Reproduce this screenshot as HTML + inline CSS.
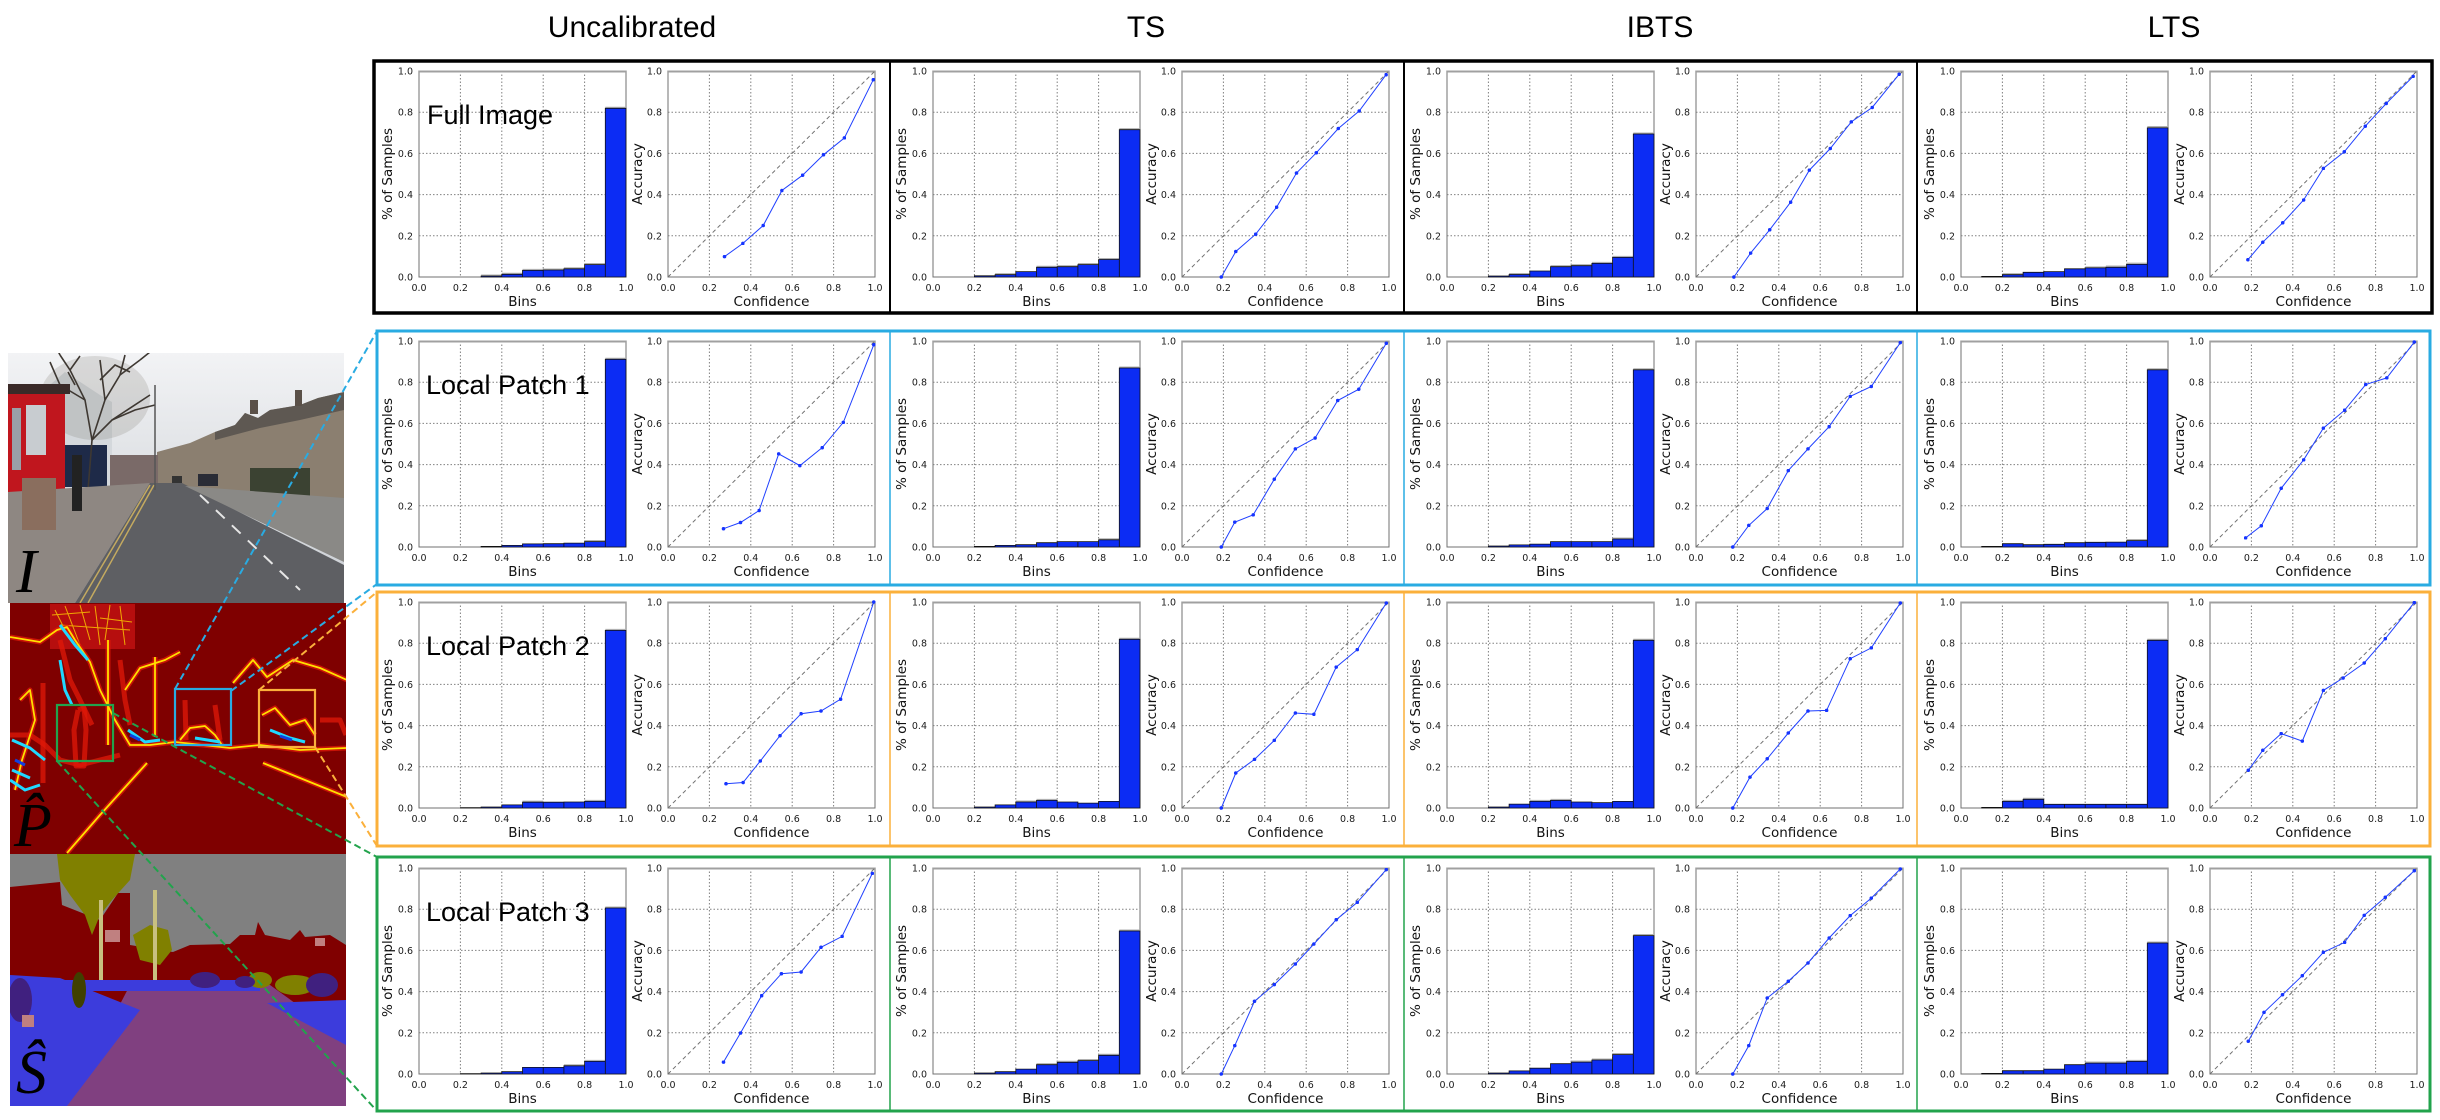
<!DOCTYPE html>
<html><head><meta charset="utf-8"><style>
html,body{margin:0;padding:0;background:#fff}
svg{display:block}
.t{font-family:"DejaVu Sans",sans-serif;font-size:9.5px;fill:#1a1a1a}
.l{font-family:"DejaVu Sans",sans-serif;font-size:13.5px;fill:#111}
.rl{font-family:"Liberation Sans",sans-serif;font-size:27px;fill:#000}
.ct{font-family:"Liberation Sans",sans-serif;font-size:30px;fill:#000}
.g{stroke:#808080;stroke-width:1;stroke-dasharray:1.5 2;fill:none}
.b{fill:#0c2cf4;stroke:#111;stroke-width:.8}
.r{fill:none;stroke:#2040ff;stroke-width:1;marker-start:url(#m);marker-mid:url(#m);marker-end:url(#m)}
.gl{fill:none;stroke:#e01808;stroke-width:5;stroke-opacity:.75;stroke-linejoin:round}
.yl{fill:none;stroke:#ffe000;stroke-width:1.8;stroke-linejoin:round}
.cy{fill:none;stroke:#20d8ff;stroke-width:3;stroke-linejoin:round}
.bl{fill:none;stroke:#1040e0;stroke-width:3;stroke-linejoin:round}
</style></head><body>
<svg width="2440" height="1120" viewBox="0 0 2440 1120" xmlns="http://www.w3.org/2000/svg">
<defs>
<marker id="m" viewBox="0 0 4 4" refX="2" refY="2" markerWidth="3.6" markerHeight="3.6" markerUnits="userSpaceOnUse"><circle cx="2" cy="2" r="2" fill="#1634ff"/></marker>
<g id="hf"><rect x="44" y="0" width="207" height="206" fill="#fff" stroke="#707070" stroke-width="1"/><path class="g" d="M85.4 0V206M126.8 0V206M168.2 0V206M209.6 0V206M44 41.2H251M44 82.4H251M44 123.6H251M44 164.8H251"/><path d="M44 0.5H251" stroke="#a0a0a0" stroke-width="2"/></g>
<g id="rf"><rect x="293" y="0" width="207" height="206" fill="#fff" stroke="#707070" stroke-width="1"/><path class="g" d="M334.4 0V206M375.8 0V206M417.2 0V206M458.6 0V206M293 41.2H500M293 82.4H500M293 123.6H500M293 164.8H500"/><path d="M293 0.5H500" stroke="#a0a0a0" stroke-width="2"/><path d="M293 206L500 0" stroke="#707070" stroke-width="1" stroke-dasharray="4 3" fill="none"/></g>
<clipPath id="cp1"><rect x="8" y="353" width="336" height="250"/></clipPath>
<clipPath id="cp2"><rect x="10" y="603" width="336" height="251"/></clipPath>
<clipPath id="cp3"><rect x="10" y="854" width="336" height="252"/></clipPath>
<linearGradient id="sky" x1="0" y1="0" x2="0" y2="1"><stop offset="0" stop-color="#f2f3f5"/><stop offset="1" stop-color="#c9cdd2"/></linearGradient>
</defs>

<!-- Column titles -->
<text class="ct" x="632" y="37" text-anchor="middle">Uncalibrated</text>
<text class="ct" x="1146" y="37" text-anchor="middle">TS</text>
<text class="ct" x="1660" y="37" text-anchor="middle">IBTS</text>
<text class="ct" x="2174" y="37" text-anchor="middle">LTS</text>

<!-- ===== Left images ===== -->
<g clip-path="url(#cp1)">
<rect x="8" y="353" width="336" height="250" fill="url(#sky)"/>
<polygon fill="#8b7f70" points="157,452 190,443 215,432 235,425 245,413 258,418 270,410 300,405 318,398 344,392 344,500 157,490"/>
<polygon fill="#5e5852" points="215,432 235,425 245,413 258,418 270,410 300,405 318,398 344,392 344,410 300,420 260,428 215,440"/>
<rect x="250" y="400" width="8" height="14" fill="#5a5048"/><rect x="295" y="390" width="7" height="16" fill="#5a5048"/>
<rect x="250" y="468" width="60" height="28" fill="#3b4232"/>
<polygon fill="#d4d8dc" points="30,402 65,372 100,395 112,402 112,490 30,490"/>
<rect x="55" y="445" width="52" height="42" fill="#1e2a48"/>
<ellipse cx="95" cy="398" rx="55" ry="42" fill="#6a625a" opacity=".18"/>
<g stroke="#3e3832" stroke-width="1.6" fill="none">
<polyline points="88,490 92,440 85,400 70,370 60,355"/><polyline points="92,440 105,400 120,375 140,360"/><polyline points="92,440 112,420 150,395"/><polyline points="85,400 60,385 50,362"/><polyline points="105,400 100,360"/><polyline points="120,375 125,355"/><polyline points="70,370 80,356"/><polyline points="112,420 135,410 155,405"/>
<polyline points="100,380 115,365 130,372"/><polyline points="75,385 68,372"/><polyline points="140,360 150,352"/><polyline points="60,355 55,345"/>
</g>
<rect x="110" y="455" width="48" height="35" fill="#7a6a68"/>
<rect x="8" y="388" width="57" height="143" fill="#c0161e"/>
<rect x="8" y="384" width="62" height="10" fill="#3a2a28"/>
<rect x="12" y="408" width="9" height="62" fill="#9aa0a8"/><rect x="26" y="405" width="20" height="50" fill="#c8ccd0"/>
<polygon fill="#8e8782" points="8,492 150,483 75,603 8,603"/>
<rect x="22" y="478" width="34" height="52" fill="#8a6e5e"/>
<polygon fill="#5e5f63" points="150,483 182,483 344,565 344,603 75,603"/>
<polygon fill="#8a8986" points="185,486 344,498 344,562"/>
<line x1="150" y1="485" x2="80" y2="603" stroke="#c4aa60" stroke-width="1.5"/>
<line x1="154" y1="485" x2="88" y2="603" stroke="#c4aa60" stroke-width="1.5"/>
<line x1="200" y1="495" x2="300" y2="590" stroke="#e6e6e6" stroke-width="2" stroke-dasharray="12 10"/>
<rect x="198" y="474" width="20" height="12" fill="#2a2c36"/><rect x="172" y="476" width="10" height="7" fill="#333"/>
<rect x="72" y="455" width="10" height="56" fill="#222"/>
<line x1="155" y1="385" x2="155" y2="490" stroke="#555" stroke-width="1.5"/>
<text x="16" y="592" font-family="Liberation Serif,serif" font-style="italic" font-size="62" fill="#000">I</text>
</g>

<g clip-path="url(#cp2)">
<rect x="10" y="603" width="336" height="251" fill="#7f0000"/>
<rect x="50" y="604" width="85" height="45" fill="#c01010" opacity=".85"/>
<g stroke="#ffd000" stroke-width="1" fill="none" opacity=".8"><path d="M55 610L70 640M65 606L80 645M80 605L90 640M95 606L100 645M110 605L105 640M120 606L125 645M60 625L130 630M52 615L90 612M100 618L132 622"/></g>
<g>
<polyline class="gl" points="10,637 40,642 57,630 67,627 75,640 90,662 100,690 115,720 130,745 150,745 175,742 230,748 260,745 300,750 346,748"/>
<polyline class="gl" points="10,735 30,735 45,745 60,760 80,765 100,760 120,755"/>
<polyline class="gl" points="67,853 100,815 147,763"/>
<polyline class="gl" points="263,763 300,778 347,797"/>
<polyline class="gl" points="233,683 253,660 267,677 293,660 320,668 347,680"/>
<polyline class="gl" points="43,683 43,783"/><polyline class="gl" points="155,657 155,737"/><polyline class="gl" points="108,640 108,745"/>
<polyline class="gl" points="78,710 84,708 86,730 84,766 76,766 74,730 78,710"/>
<polyline class="gl" points="125,690 140,668 165,660 180,652"/>
<polyline class="gl" points="60,640 70,680 80,700 92,725"/>
<polyline class="gl" points="20,700 30,690 35,720 22,760 15,790"/>
<polyline class="gl" points="180,740 190,728 205,726 215,735 222,745"/>
<polyline class="gl" points="185,700 186,740"/><polyline class="gl" points="215,705 220,740"/>
<polyline class="gl" points="262,715 275,708 290,725 305,720 315,735"/>
<polyline class="gl" points="120,660 125,700 130,725"/>
<polyline class="gl" points="320,720 340,720 346,735"/>
<polyline class="yl" points="10,637 40,642 57,630 67,627 75,640 90,662 100,690 115,720 130,745 150,745 175,742 230,748 260,745 300,750 346,748"/>
<polyline class="yl" points="67,853 100,815 147,763"/>
<polyline class="yl" points="263,763 300,778 347,797"/>
<polyline class="yl" points="233,683 253,660 267,677 293,660 320,668 347,680"/>
<polyline class="yl" points="155,657 155,737"/><polyline class="yl" points="108,640 108,745"/>
<polyline class="yl" points="125,690 140,668 165,660 180,652"/>
<polyline class="yl" points="180,740 190,728 205,726 215,735 222,745"/>
<polyline class="yl" points="262,715 275,708 290,725 305,720 315,735"/>
<polyline class="yl" points="20,700 30,690 35,720 22,760 15,790"/>
<polyline class="cy" points="12,740 30,748 45,760"/><polyline class="cy" points="128,730 145,742 160,740"/>
<polyline class="cy" points="195,738 220,742"/><polyline class="cy" points="270,730 290,738 305,742"/>
<polyline class="cy" points="12,770 30,778"/><polyline class="cy" points="60,625 75,645 88,660"/>
<polyline class="cy" points="60,660 65,690 72,705"/><polyline class="cy" points="10,780 25,790 40,785"/>
<polyline class="bl" points="130,735 140,740"/><polyline class="bl" points="280,736 292,740"/><polyline class="bl" points="15,760 25,765"/>
</g>
<text x="14" y="846" font-family="Liberation Serif,serif" font-style="italic" font-size="62" fill="#000">P̂</text>
</g>
<rect x="175" y="689" width="56" height="56" fill="none" stroke="#29abe2" stroke-width="2.2"/>
<rect x="259" y="690" width="56" height="57" fill="none" stroke="#fbb03b" stroke-width="2.2"/>
<rect x="57" y="705" width="56" height="56" fill="none" stroke="#22a34c" stroke-width="2.2"/>

<g clip-path="url(#cp3)">
<rect x="10" y="854" width="336" height="252" fill="#808080"/>
<path fill="#800000" d="M10 887L60 882L62 905L100 920L110 905L118 893L130 893L130 945L173 952L190 945L230 944L240 935L255 935L258 922L265 935L290 940L300 930L305 937L330 935L346 945L346 1005L10 1005Z"/>
<path fill="#808000" d="M57 854L135 854L130 880L112 900L100 915L92 935L85 915L70 895L60 880Z"/>
<path fill="#808000" d="M133 935L150 925L168 930L172 950L160 965L140 960Z"/>
<rect x="99" y="900" width="4" height="90" fill="#c8c080"/><rect x="153" y="890" width="4" height="100" fill="#c8c080"/>
<path fill="#804080" d="M130 985L270 985L346 1040L346 1106L67 1106Z"/>
<path fill="#3c3cdc" d="M10 975L60 978L140 1010L67 1106L10 1106Z"/>
<rect x="35" y="980" width="225" height="11" fill="#3c3cdc"/>
<path fill="#3c3cdc" d="M267 1003L346 1000L346 1045Z"/>
<ellipse cx="295" cy="985" rx="20" ry="10" fill="#808000"/><ellipse cx="260" cy="980" rx="12" ry="8" fill="#808000"/>
<ellipse cx="20" cy="1000" rx="12" ry="22" fill="#40207f"/><ellipse cx="205" cy="980" rx="15" ry="8" fill="#40207f"/><ellipse cx="245" cy="982" rx="10" ry="6" fill="#40207f"/><ellipse cx="322" cy="985" rx="16" ry="12" fill="#40207f"/>
<rect x="105" y="930" width="15" height="12" fill="#c08080"/><rect x="315" y="938" width="10" height="8" fill="#c08080"/><rect x="22" y="1015" width="12" height="12" fill="#c08080"/>
<ellipse cx="79" cy="990" rx="7" ry="18" fill="#404000"/>
<text x="16" y="1093" font-family="Liberation Serif,serif" font-style="italic" font-size="62" fill="#000">Ŝ</text>
</g>

<!-- dashed connectors -->
<g fill="none" stroke-width="2" stroke-dasharray="7 4">
<line x1="175" y1="689" x2="377" y2="331" stroke="#29abe2"/>
<line x1="231" y1="691" x2="377" y2="584" stroke="#29abe2"/>
<line x1="259" y1="690" x2="377" y2="592" stroke="#fbb03b"/>
<line x1="315" y1="747" x2="377" y2="846" stroke="#fbb03b"/>
<line x1="113" y1="713" x2="377" y2="857" stroke="#22a34c"/>
<line x1="57" y1="761" x2="377" y2="1111" stroke="#22a34c"/>
</g>

<!-- ===== Row frames ===== -->
<rect x="374" y="61" width="2058" height="252" fill="#fff" stroke="#000" stroke-width="3.5"/>
<path d="M890 61V313M1404 61V313M1917 61V313" stroke="#000" stroke-width="2"/>
<rect x="377" y="331" width="2053" height="254" fill="#fff" stroke="#29abe2" stroke-width="3"/>
<path d="M890 331V585M1404 331V585M1917 331V585" stroke="#29abe2" stroke-width="1.5"/>
<rect x="377" y="592" width="2053" height="254" fill="#fff" stroke="#fbb03b" stroke-width="3"/>
<path d="M890 592V846M1404 592V846M1917 592V846" stroke="#fbb03b" stroke-width="1.5"/>
<rect x="377" y="857" width="2053" height="254" fill="#fff" stroke="#22a34c" stroke-width="3"/>
<path d="M890 857V1111M1404 857V1111M1917 857V1111" stroke="#22a34c" stroke-width="1.5"/>

<!-- ===== ROW 1 ===== -->
<g transform="translate(375 71)"><use href="#hf"/><use href="#rf"/>
<path d="M106.1 204.2h20.7M126.8 202.5h20.7M147.5 198.6h20.7M168.2 198.2h20.7M188.9 197h20.7M209.6 192.8h20.7M230.3 36.5h20.7" stroke="#b0b0b0" stroke-width="1.5"/>
<path class="b" d="M106.1 206V205h20.7V206zM126.8 206V203.3h20.7V206zM147.5 206V199.4h20.7V206zM168.2 206V199h20.7V206zM188.9 206V197.8h20.7V206zM209.6 206V193.6h20.7V206zM230.3 206V37.3h20.7V206z"/>
<polyline class="r" points="349.5,185.6 367.9,172.4 388.2,154.5 406.9,119.5 427.6,104.2 448.5,83.8 469.4,66.9 498.3,8.7"/>
<text class="t" text-anchor="end"><tspan x="38" y="209.5">0.0</tspan><tspan x="38" y="168.3">0.2</tspan><tspan x="38" y="127.1">0.4</tspan><tspan x="38" y="85.9">0.6</tspan><tspan x="38" y="44.7">0.8</tspan><tspan x="38" y="3.5">1.0</tspan></text>
<text class="t" text-anchor="middle"><tspan x="44" y="220">0.0</tspan><tspan x="85.4" y="220">0.2</tspan><tspan x="126.8" y="220">0.4</tspan><tspan x="168.2" y="220">0.6</tspan><tspan x="209.6" y="220">0.8</tspan><tspan x="251" y="220">1.0</tspan></text>
<text class="t" text-anchor="end"><tspan x="287" y="209.5">0.0</tspan><tspan x="287" y="168.3">0.2</tspan><tspan x="287" y="127.1">0.4</tspan><tspan x="287" y="85.9">0.6</tspan><tspan x="287" y="44.7">0.8</tspan><tspan x="287" y="3.5">1.0</tspan></text>
<text class="t" text-anchor="middle"><tspan x="293" y="220">0.0</tspan><tspan x="334.4" y="220">0.2</tspan><tspan x="375.8" y="220">0.4</tspan><tspan x="417.2" y="220">0.6</tspan><tspan x="458.6" y="220">0.8</tspan><tspan x="500" y="220">1.0</tspan></text>
<text class="l" x="147.5" y="235" text-anchor="middle">Bins</text><text class="l" x="396.5" y="235" text-anchor="middle">Confidence</text>
<text class="l" transform="translate(17 103) rotate(-90)" text-anchor="middle">% of Samples</text><text class="l" transform="translate(267 103) rotate(-90)" text-anchor="middle">Accuracy</text>
<text class="rl" x="52" y="53">Full Image</text>
</g>

<g transform="translate(889 71)"><use href="#hf"/><use href="#rf"/>
<path d="M106.1 202.9h20.7M147.5 195.5h20.7M168.2 194.9h20.7M188.9 192.8h20.7M209.6 187.7h20.7M230.3 57.9h20.7" stroke="#b0b0b0" stroke-width="1.5"/>
<path class="b" d="M85.4 206V204.8h20.7V206zM106.1 206V203.7h20.7V206zM126.8 206V200.6h20.7V206zM147.5 206V196.3h20.7V206zM168.2 206V195.7h20.7V206zM188.9 206V193.6h20.7V206zM209.6 206V188.5h20.7V206zM230.3 206V58.7h20.7V206z"/>
<polyline class="r" points="332.3,206 346.8,180.5 366.7,163.2 387.6,136.2 407.5,102 427.3,81.8 449.3,57.5 470.2,40 497.1,3.7"/>
<text class="t" text-anchor="end"><tspan x="38" y="209.5">0.0</tspan><tspan x="38" y="168.3">0.2</tspan><tspan x="38" y="127.1">0.4</tspan><tspan x="38" y="85.9">0.6</tspan><tspan x="38" y="44.7">0.8</tspan><tspan x="38" y="3.5">1.0</tspan></text>
<text class="t" text-anchor="middle"><tspan x="44" y="220">0.0</tspan><tspan x="85.4" y="220">0.2</tspan><tspan x="126.8" y="220">0.4</tspan><tspan x="168.2" y="220">0.6</tspan><tspan x="209.6" y="220">0.8</tspan><tspan x="251" y="220">1.0</tspan></text>
<text class="t" text-anchor="end"><tspan x="287" y="209.5">0.0</tspan><tspan x="287" y="168.3">0.2</tspan><tspan x="287" y="127.1">0.4</tspan><tspan x="287" y="85.9">0.6</tspan><tspan x="287" y="44.7">0.8</tspan><tspan x="287" y="3.5">1.0</tspan></text>
<text class="t" text-anchor="middle"><tspan x="293" y="220">0.0</tspan><tspan x="334.4" y="220">0.2</tspan><tspan x="375.8" y="220">0.4</tspan><tspan x="417.2" y="220">0.6</tspan><tspan x="458.6" y="220">0.8</tspan><tspan x="500" y="220">1.0</tspan></text>
<text class="l" x="147.5" y="235" text-anchor="middle">Bins</text><text class="l" x="396.5" y="235" text-anchor="middle">Confidence</text>
<text class="l" transform="translate(17 103) rotate(-90)" text-anchor="middle">% of Samples</text><text class="l" transform="translate(267 103) rotate(-90)" text-anchor="middle">Accuracy</text>
</g>

<g transform="translate(1403 71)"><use href="#hf"/><use href="#rf"/>
<path d="M106.1 202.7h20.7M147.5 194.9h20.7M168.2 193.9h20.7M188.9 191.6h20.7M209.6 185.6h20.7M230.3 62.2h20.7" stroke="#b0b0b0" stroke-width="1.5"/>
<path class="b" d="M85.4 206V205h20.7V206zM106.1 206V203.5h20.7V206zM126.8 206V200h20.7V206zM147.5 206V195.7h20.7V206zM168.2 206V194.7h20.7V206zM188.9 206V192.4h20.7V206zM209.6 206V186.4h20.7V206zM230.3 206V63h20.7V206z"/>
<polyline class="r" points="330.9,206 347.6,182.1 366.7,158.8 387.6,131.2 406.4,99.1 427.3,77.5 448.3,50.9 469.2,36.5 496.1,3.3"/>
<text class="t" text-anchor="end"><tspan x="38" y="209.5">0.0</tspan><tspan x="38" y="168.3">0.2</tspan><tspan x="38" y="127.1">0.4</tspan><tspan x="38" y="85.9">0.6</tspan><tspan x="38" y="44.7">0.8</tspan><tspan x="38" y="3.5">1.0</tspan></text>
<text class="t" text-anchor="middle"><tspan x="44" y="220">0.0</tspan><tspan x="85.4" y="220">0.2</tspan><tspan x="126.8" y="220">0.4</tspan><tspan x="168.2" y="220">0.6</tspan><tspan x="209.6" y="220">0.8</tspan><tspan x="251" y="220">1.0</tspan></text>
<text class="t" text-anchor="end"><tspan x="287" y="209.5">0.0</tspan><tspan x="287" y="168.3">0.2</tspan><tspan x="287" y="127.1">0.4</tspan><tspan x="287" y="85.9">0.6</tspan><tspan x="287" y="44.7">0.8</tspan><tspan x="287" y="3.5">1.0</tspan></text>
<text class="t" text-anchor="middle"><tspan x="293" y="220">0.0</tspan><tspan x="334.4" y="220">0.2</tspan><tspan x="375.8" y="220">0.4</tspan><tspan x="417.2" y="220">0.6</tspan><tspan x="458.6" y="220">0.8</tspan><tspan x="500" y="220">1.0</tspan></text>
<text class="l" x="147.5" y="235" text-anchor="middle">Bins</text><text class="l" x="396.5" y="235" text-anchor="middle">Confidence</text>
<text class="l" transform="translate(17 103) rotate(-90)" text-anchor="middle">% of Samples</text><text class="l" transform="translate(267 103) rotate(-90)" text-anchor="middle">Accuracy</text>
</g>

<g transform="translate(1917 71)"><use href="#hf"/><use href="#rf"/>
<path d="M85.4 202.9h20.7M168.2 196.1h20.7M188.9 195.3h20.7M209.6 192.4h20.7M230.3 55.7h20.7" stroke="#b0b0b0" stroke-width="1.5"/>
<path class="b" d="M64.7 206V205.4h20.7V206zM85.4 206V203.7h20.7V206zM106.1 206V201.3h20.7V206zM126.8 206V200.6h20.7V206zM147.5 206V197.8h20.7V206zM168.2 206V196.9h20.7V206zM188.9 206V196.3h20.7V206zM209.6 206V193.4h20.7V206zM230.3 206V56.9h20.7V206z"/>
<polyline class="r" points="330.9,188.7 345.8,171.2 365.7,151.8 386.6,129 406.4,97.4 427.3,80.8 448.3,55.2 469.2,32.5 496.1,5.4"/>
<text class="t" text-anchor="end"><tspan x="38" y="209.5">0.0</tspan><tspan x="38" y="168.3">0.2</tspan><tspan x="38" y="127.1">0.4</tspan><tspan x="38" y="85.9">0.6</tspan><tspan x="38" y="44.7">0.8</tspan><tspan x="38" y="3.5">1.0</tspan></text>
<text class="t" text-anchor="middle"><tspan x="44" y="220">0.0</tspan><tspan x="85.4" y="220">0.2</tspan><tspan x="126.8" y="220">0.4</tspan><tspan x="168.2" y="220">0.6</tspan><tspan x="209.6" y="220">0.8</tspan><tspan x="251" y="220">1.0</tspan></text>
<text class="t" text-anchor="end"><tspan x="287" y="209.5">0.0</tspan><tspan x="287" y="168.3">0.2</tspan><tspan x="287" y="127.1">0.4</tspan><tspan x="287" y="85.9">0.6</tspan><tspan x="287" y="44.7">0.8</tspan><tspan x="287" y="3.5">1.0</tspan></text>
<text class="t" text-anchor="middle"><tspan x="293" y="220">0.0</tspan><tspan x="334.4" y="220">0.2</tspan><tspan x="375.8" y="220">0.4</tspan><tspan x="417.2" y="220">0.6</tspan><tspan x="458.6" y="220">0.8</tspan><tspan x="500" y="220">1.0</tspan></text>
<text class="l" x="147.5" y="235" text-anchor="middle">Bins</text><text class="l" x="396.5" y="235" text-anchor="middle">Confidence</text>
<text class="l" transform="translate(17 103) rotate(-90)" text-anchor="middle">% of Samples</text><text class="l" transform="translate(267 103) rotate(-90)" text-anchor="middle">Accuracy</text>
</g>

<!-- ===== ROW 2 ===== -->
<g transform="translate(375 341)"><use href="#hf"/><use href="#rf"/>
<path d="M230.3 17.5h20.7M209.6 199.8h20.7" stroke="#b0b0b0" stroke-width="1.5"/>
<path class="b" d="M106.1 206V205.4h20.7V206zM126.8 206V204.4h20.7V206zM147.5 206V202.9h20.7V206zM168.2 206V202.7h20.7V206zM188.9 206V202.1h20.7V206zM209.6 206V200.6h20.7V206zM230.3 206V18.3h20.7V206z"/>
<polyline class="r" points="348.5,187.7 365.5,181.5 384.1,169.5 403.7,112.9 424.9,124.6 447.2,106.7 468.3,81.4 498.8,3.7"/>
<text class="t" text-anchor="end"><tspan x="38" y="209.5">0.0</tspan><tspan x="38" y="168.3">0.2</tspan><tspan x="38" y="127.1">0.4</tspan><tspan x="38" y="85.9">0.6</tspan><tspan x="38" y="44.7">0.8</tspan><tspan x="38" y="3.5">1.0</tspan></text>
<text class="t" text-anchor="middle"><tspan x="44" y="220">0.0</tspan><tspan x="85.4" y="220">0.2</tspan><tspan x="126.8" y="220">0.4</tspan><tspan x="168.2" y="220">0.6</tspan><tspan x="209.6" y="220">0.8</tspan><tspan x="251" y="220">1.0</tspan></text>
<text class="t" text-anchor="end"><tspan x="287" y="209.5">0.0</tspan><tspan x="287" y="168.3">0.2</tspan><tspan x="287" y="127.1">0.4</tspan><tspan x="287" y="85.9">0.6</tspan><tspan x="287" y="44.7">0.8</tspan><tspan x="287" y="3.5">1.0</tspan></text>
<text class="t" text-anchor="middle"><tspan x="293" y="220">0.0</tspan><tspan x="334.4" y="220">0.2</tspan><tspan x="375.8" y="220">0.4</tspan><tspan x="417.2" y="220">0.6</tspan><tspan x="458.6" y="220">0.8</tspan><tspan x="500" y="220">1.0</tspan></text>
<text class="l" x="147.5" y="235" text-anchor="middle">Bins</text><text class="l" x="396.5" y="235" text-anchor="middle">Confidence</text>
<text class="l" transform="translate(17 103) rotate(-90)" text-anchor="middle">% of Samples</text><text class="l" transform="translate(267 103) rotate(-90)" text-anchor="middle">Accuracy</text>
<text class="rl" x="51" y="53">Local Patch 1</text>
</g>

<g transform="translate(889 341)"><use href="#hf"/><use href="#rf"/>
<path d="M230.3 26.2h20.7M209.6 198h20.7" stroke="#b0b0b0" stroke-width="1.5"/>
<path class="b" d="M85.4 206V205.4h20.7V206zM106.1 206V204.4h20.7V206zM126.8 206V203.7h20.7V206zM147.5 206V201.7h20.7V206zM168.2 206V200.6h20.7V206zM188.9 206V200.6h20.7V206zM209.6 206V198.8h20.7V206zM230.3 206V27h20.7V206z"/>
<polyline class="r" points="332.3,206 345.8,181.1 364.2,173.9 385.3,138.2 406.4,107.9 426.1,97 448.7,59.5 469.8,48.2 497.3,2.3"/>
<text class="t" text-anchor="end"><tspan x="38" y="209.5">0.0</tspan><tspan x="38" y="168.3">0.2</tspan><tspan x="38" y="127.1">0.4</tspan><tspan x="38" y="85.9">0.6</tspan><tspan x="38" y="44.7">0.8</tspan><tspan x="38" y="3.5">1.0</tspan></text>
<text class="t" text-anchor="middle"><tspan x="44" y="220">0.0</tspan><tspan x="85.4" y="220">0.2</tspan><tspan x="126.8" y="220">0.4</tspan><tspan x="168.2" y="220">0.6</tspan><tspan x="209.6" y="220">0.8</tspan><tspan x="251" y="220">1.0</tspan></text>
<text class="t" text-anchor="end"><tspan x="287" y="209.5">0.0</tspan><tspan x="287" y="168.3">0.2</tspan><tspan x="287" y="127.1">0.4</tspan><tspan x="287" y="85.9">0.6</tspan><tspan x="287" y="44.7">0.8</tspan><tspan x="287" y="3.5">1.0</tspan></text>
<text class="t" text-anchor="middle"><tspan x="293" y="220">0.0</tspan><tspan x="334.4" y="220">0.2</tspan><tspan x="375.8" y="220">0.4</tspan><tspan x="417.2" y="220">0.6</tspan><tspan x="458.6" y="220">0.8</tspan><tspan x="500" y="220">1.0</tspan></text>
<text class="l" x="147.5" y="235" text-anchor="middle">Bins</text><text class="l" x="396.5" y="235" text-anchor="middle">Confidence</text>
<text class="l" transform="translate(17 103) rotate(-90)" text-anchor="middle">% of Samples</text><text class="l" transform="translate(267 103) rotate(-90)" text-anchor="middle">Accuracy</text>
</g>

<g transform="translate(1403 341)"><use href="#hf"/><use href="#rf"/>
<path d="M230.3 28h20.7M209.6 197.2h20.7" stroke="#b0b0b0" stroke-width="1.5"/>
<path class="b" d="M85.4 206V205h20.7V206zM106.1 206V203.9h20.7V206zM126.8 206V203.1h20.7V206zM147.5 206V200.6h20.7V206zM168.2 206V200.6h20.7V206zM188.9 206V200.6h20.7V206zM209.6 206V198h20.7V206zM230.3 206V28.8h20.7V206z"/>
<polyline class="r" points="329.8,206 345.8,184.4 364.2,167.5 385.3,129.6 405,107.9 426.1,85.7 447.2,55.4 468.3,45.5 497.3,1.6"/>
<text class="t" text-anchor="end"><tspan x="38" y="209.5">0.0</tspan><tspan x="38" y="168.3">0.2</tspan><tspan x="38" y="127.1">0.4</tspan><tspan x="38" y="85.9">0.6</tspan><tspan x="38" y="44.7">0.8</tspan><tspan x="38" y="3.5">1.0</tspan></text>
<text class="t" text-anchor="middle"><tspan x="44" y="220">0.0</tspan><tspan x="85.4" y="220">0.2</tspan><tspan x="126.8" y="220">0.4</tspan><tspan x="168.2" y="220">0.6</tspan><tspan x="209.6" y="220">0.8</tspan><tspan x="251" y="220">1.0</tspan></text>
<text class="t" text-anchor="end"><tspan x="287" y="209.5">0.0</tspan><tspan x="287" y="168.3">0.2</tspan><tspan x="287" y="127.1">0.4</tspan><tspan x="287" y="85.9">0.6</tspan><tspan x="287" y="44.7">0.8</tspan><tspan x="287" y="3.5">1.0</tspan></text>
<text class="t" text-anchor="middle"><tspan x="293" y="220">0.0</tspan><tspan x="334.4" y="220">0.2</tspan><tspan x="375.8" y="220">0.4</tspan><tspan x="417.2" y="220">0.6</tspan><tspan x="458.6" y="220">0.8</tspan><tspan x="500" y="220">1.0</tspan></text>
<text class="l" x="147.5" y="235" text-anchor="middle">Bins</text><text class="l" x="396.5" y="235" text-anchor="middle">Confidence</text>
<text class="l" transform="translate(17 103) rotate(-90)" text-anchor="middle">% of Samples</text><text class="l" transform="translate(267 103) rotate(-90)" text-anchor="middle">Accuracy</text>
</g>

<g transform="translate(1917 341)"><use href="#hf"/><use href="#rf"/>
<path d="M230.3 28h20.7M209.6 198.8h20.7" stroke="#b0b0b0" stroke-width="1.5"/>
<path class="b" d="M64.7 206V205.4h20.7V206zM85.4 206V202.7h20.7V206zM106.1 206V203.7h20.7V206zM126.8 206V203.3h20.7V206zM147.5 206V201.7h20.7V206zM168.2 206V201.3h20.7V206zM188.9 206V201.1h20.7V206zM209.6 206V199.6h20.7V206zM230.3 206V28.8h20.7V206z"/>
<polyline class="r" points="328.6,196.9 344.3,184.8 364.2,147.3 386.6,118.9 406.4,87.1 427.6,69.2 448.7,43.5 469.8,36.9 497.3,1"/>
<text class="t" text-anchor="end"><tspan x="38" y="209.5">0.0</tspan><tspan x="38" y="168.3">0.2</tspan><tspan x="38" y="127.1">0.4</tspan><tspan x="38" y="85.9">0.6</tspan><tspan x="38" y="44.7">0.8</tspan><tspan x="38" y="3.5">1.0</tspan></text>
<text class="t" text-anchor="middle"><tspan x="44" y="220">0.0</tspan><tspan x="85.4" y="220">0.2</tspan><tspan x="126.8" y="220">0.4</tspan><tspan x="168.2" y="220">0.6</tspan><tspan x="209.6" y="220">0.8</tspan><tspan x="251" y="220">1.0</tspan></text>
<text class="t" text-anchor="end"><tspan x="287" y="209.5">0.0</tspan><tspan x="287" y="168.3">0.2</tspan><tspan x="287" y="127.1">0.4</tspan><tspan x="287" y="85.9">0.6</tspan><tspan x="287" y="44.7">0.8</tspan><tspan x="287" y="3.5">1.0</tspan></text>
<text class="t" text-anchor="middle"><tspan x="293" y="220">0.0</tspan><tspan x="334.4" y="220">0.2</tspan><tspan x="375.8" y="220">0.4</tspan><tspan x="417.2" y="220">0.6</tspan><tspan x="458.6" y="220">0.8</tspan><tspan x="500" y="220">1.0</tspan></text>
<text class="l" x="147.5" y="235" text-anchor="middle">Bins</text><text class="l" x="396.5" y="235" text-anchor="middle">Confidence</text>
<text class="l" transform="translate(17 103) rotate(-90)" text-anchor="middle">% of Samples</text><text class="l" transform="translate(267 103) rotate(-90)" text-anchor="middle">Accuracy</text>
</g>

<!-- ===== ROW 3 ===== -->
<g transform="translate(375 602)"><use href="#hf"/><use href="#rf"/>
<path d="M230.3 27.6h20.7M209.6 198.6h20.7M147.5 199.4h20.7" stroke="#b0b0b0" stroke-width="1.5"/>
<path class="b" d="M85.4 206V205.6h20.7V206zM106.1 206V205h20.7V206zM126.8 206V202.9h20.7V206zM147.5 206V200.2h20.7V206zM168.2 206V200.2h20.7V206zM188.9 206V200h20.7V206zM209.6 206V199.4h20.7V206zM230.3 206V28.4h20.7V206z"/>
<polyline class="r" points="351,181.7 368.1,180.5 385.3,159 405,133.7 426.1,111.7 446,109 465.6,97.2 498.8,0"/>
<text class="t" text-anchor="end"><tspan x="38" y="209.5">0.0</tspan><tspan x="38" y="168.3">0.2</tspan><tspan x="38" y="127.1">0.4</tspan><tspan x="38" y="85.9">0.6</tspan><tspan x="38" y="44.7">0.8</tspan><tspan x="38" y="3.5">1.0</tspan></text>
<text class="t" text-anchor="middle"><tspan x="44" y="220">0.0</tspan><tspan x="85.4" y="220">0.2</tspan><tspan x="126.8" y="220">0.4</tspan><tspan x="168.2" y="220">0.6</tspan><tspan x="209.6" y="220">0.8</tspan><tspan x="251" y="220">1.0</tspan></text>
<text class="t" text-anchor="end"><tspan x="287" y="209.5">0.0</tspan><tspan x="287" y="168.3">0.2</tspan><tspan x="287" y="127.1">0.4</tspan><tspan x="287" y="85.9">0.6</tspan><tspan x="287" y="44.7">0.8</tspan><tspan x="287" y="3.5">1.0</tspan></text>
<text class="t" text-anchor="middle"><tspan x="293" y="220">0.0</tspan><tspan x="334.4" y="220">0.2</tspan><tspan x="375.8" y="220">0.4</tspan><tspan x="417.2" y="220">0.6</tspan><tspan x="458.6" y="220">0.8</tspan><tspan x="500" y="220">1.0</tspan></text>
<text class="l" x="147.5" y="235" text-anchor="middle">Bins</text><text class="l" x="396.5" y="235" text-anchor="middle">Confidence</text>
<text class="l" transform="translate(17 103) rotate(-90)" text-anchor="middle">% of Samples</text><text class="l" transform="translate(267 103) rotate(-90)" text-anchor="middle">Accuracy</text>
<text class="rl" x="51" y="53">Local Patch 2</text>
</g>

<g transform="translate(889 602)"><use href="#hf"/><use href="#rf"/>
<path d="M230.3 36.5h20.7M147.5 197.6h20.7M126.8 199.2h20.7" stroke="#b0b0b0" stroke-width="1.5"/>
<path class="b" d="M85.4 206V205h20.7V206zM106.1 206V202.9h20.7V206zM126.8 206V200h20.7V206zM147.5 206V198.4h20.7V206zM168.2 206V200h20.7V206zM188.9 206V201.1h20.7V206zM209.6 206V199.4h20.7V206zM230.3 206V37.3h20.7V206z"/>
<polyline class="r" points="332.3,206 346.8,171 365.5,157.4 385.3,138.4 406.4,111 424.9,112.3 447.2,65.1 468.3,47.6 497.3,1"/>
<text class="t" text-anchor="end"><tspan x="38" y="209.5">0.0</tspan><tspan x="38" y="168.3">0.2</tspan><tspan x="38" y="127.1">0.4</tspan><tspan x="38" y="85.9">0.6</tspan><tspan x="38" y="44.7">0.8</tspan><tspan x="38" y="3.5">1.0</tspan></text>
<text class="t" text-anchor="middle"><tspan x="44" y="220">0.0</tspan><tspan x="85.4" y="220">0.2</tspan><tspan x="126.8" y="220">0.4</tspan><tspan x="168.2" y="220">0.6</tspan><tspan x="209.6" y="220">0.8</tspan><tspan x="251" y="220">1.0</tspan></text>
<text class="t" text-anchor="end"><tspan x="287" y="209.5">0.0</tspan><tspan x="287" y="168.3">0.2</tspan><tspan x="287" y="127.1">0.4</tspan><tspan x="287" y="85.9">0.6</tspan><tspan x="287" y="44.7">0.8</tspan><tspan x="287" y="3.5">1.0</tspan></text>
<text class="t" text-anchor="middle"><tspan x="293" y="220">0.0</tspan><tspan x="334.4" y="220">0.2</tspan><tspan x="375.8" y="220">0.4</tspan><tspan x="417.2" y="220">0.6</tspan><tspan x="458.6" y="220">0.8</tspan><tspan x="500" y="220">1.0</tspan></text>
<text class="l" x="147.5" y="235" text-anchor="middle">Bins</text><text class="l" x="396.5" y="235" text-anchor="middle">Confidence</text>
<text class="l" transform="translate(17 103) rotate(-90)" text-anchor="middle">% of Samples</text><text class="l" transform="translate(267 103) rotate(-90)" text-anchor="middle">Accuracy</text>
</g>

<g transform="translate(1403 602)"><use href="#hf"/><use href="#rf"/>
<path d="M230.3 37.5h20.7M147.5 197.6h20.7M126.8 198.6h20.7" stroke="#b0b0b0" stroke-width="1.5"/>
<path class="b" d="M85.4 206V205h20.7V206zM106.1 206V202.1h20.7V206zM126.8 206V199.4h20.7V206zM147.5 206V198.4h20.7V206zM168.2 206V200h20.7V206zM188.9 206V200.6h20.7V206zM209.6 206V199.4h20.7V206zM230.3 206V38.3h20.7V206z"/>
<polyline class="r" points="329.8,206 347,175.1 364.2,156.8 385.3,131 405,109 423.6,108.4 447.2,56.7 468.3,45.9 497.3,1"/>
<text class="t" text-anchor="end"><tspan x="38" y="209.5">0.0</tspan><tspan x="38" y="168.3">0.2</tspan><tspan x="38" y="127.1">0.4</tspan><tspan x="38" y="85.9">0.6</tspan><tspan x="38" y="44.7">0.8</tspan><tspan x="38" y="3.5">1.0</tspan></text>
<text class="t" text-anchor="middle"><tspan x="44" y="220">0.0</tspan><tspan x="85.4" y="220">0.2</tspan><tspan x="126.8" y="220">0.4</tspan><tspan x="168.2" y="220">0.6</tspan><tspan x="209.6" y="220">0.8</tspan><tspan x="251" y="220">1.0</tspan></text>
<text class="t" text-anchor="end"><tspan x="287" y="209.5">0.0</tspan><tspan x="287" y="168.3">0.2</tspan><tspan x="287" y="127.1">0.4</tspan><tspan x="287" y="85.9">0.6</tspan><tspan x="287" y="44.7">0.8</tspan><tspan x="287" y="3.5">1.0</tspan></text>
<text class="t" text-anchor="middle"><tspan x="293" y="220">0.0</tspan><tspan x="334.4" y="220">0.2</tspan><tspan x="375.8" y="220">0.4</tspan><tspan x="417.2" y="220">0.6</tspan><tspan x="458.6" y="220">0.8</tspan><tspan x="500" y="220">1.0</tspan></text>
<text class="l" x="147.5" y="235" text-anchor="middle">Bins</text><text class="l" x="396.5" y="235" text-anchor="middle">Confidence</text>
<text class="l" transform="translate(17 103) rotate(-90)" text-anchor="middle">% of Samples</text><text class="l" transform="translate(267 103) rotate(-90)" text-anchor="middle">Accuracy</text>
</g>

<g transform="translate(1917 602)"><use href="#hf"/><use href="#rf"/>
<path d="M230.3 37.5h20.7M85.4 198.6h20.7M106.1 196.5h20.7" stroke="#b0b0b0" stroke-width="1.5"/>
<path class="b" d="M64.7 206V205.4h20.7V206zM85.4 206V199.4h20.7V206zM106.1 206V197.3h20.7V206zM126.8 206V202.3h20.7V206zM147.5 206V202.3h20.7V206zM168.2 206V202.3h20.7V206zM188.9 206V202.3h20.7V206zM209.6 206V202.3h20.7V206zM230.3 206V38.3h20.7V206z"/>
<polyline class="r" points="331.3,168.3 345.8,148.3 364.2,131.6 385.3,139.1 406.4,88.4 426.1,76 447.2,61 468.3,36.7 497.3,0.6"/>
<text class="t" text-anchor="end"><tspan x="38" y="209.5">0.0</tspan><tspan x="38" y="168.3">0.2</tspan><tspan x="38" y="127.1">0.4</tspan><tspan x="38" y="85.9">0.6</tspan><tspan x="38" y="44.7">0.8</tspan><tspan x="38" y="3.5">1.0</tspan></text>
<text class="t" text-anchor="middle"><tspan x="44" y="220">0.0</tspan><tspan x="85.4" y="220">0.2</tspan><tspan x="126.8" y="220">0.4</tspan><tspan x="168.2" y="220">0.6</tspan><tspan x="209.6" y="220">0.8</tspan><tspan x="251" y="220">1.0</tspan></text>
<text class="t" text-anchor="end"><tspan x="287" y="209.5">0.0</tspan><tspan x="287" y="168.3">0.2</tspan><tspan x="287" y="127.1">0.4</tspan><tspan x="287" y="85.9">0.6</tspan><tspan x="287" y="44.7">0.8</tspan><tspan x="287" y="3.5">1.0</tspan></text>
<text class="t" text-anchor="middle"><tspan x="293" y="220">0.0</tspan><tspan x="334.4" y="220">0.2</tspan><tspan x="375.8" y="220">0.4</tspan><tspan x="417.2" y="220">0.6</tspan><tspan x="458.6" y="220">0.8</tspan><tspan x="500" y="220">1.0</tspan></text>
<text class="l" x="147.5" y="235" text-anchor="middle">Bins</text><text class="l" x="396.5" y="235" text-anchor="middle">Confidence</text>
<text class="l" transform="translate(17 103) rotate(-90)" text-anchor="middle">% of Samples</text><text class="l" transform="translate(267 103) rotate(-90)" text-anchor="middle">Accuracy</text>
</g>

<!-- ===== ROW 4 ===== -->
<g transform="translate(375 868)"><use href="#hf"/><use href="#rf"/>
<path d="M230.3 39.2h20.7M209.6 192.6h20.7M188.9 197h20.7" stroke="#b0b0b0" stroke-width="1.5"/>
<path class="b" d="M85.4 206V205.6h20.7V206zM106.1 206V205h20.7V206zM126.8 206V203.7h20.7V206zM147.5 206V199.4h20.7V206zM168.2 206V199.4h20.7V206zM188.9 206V197.8h20.7V206zM209.6 206V193.4h20.7V206zM230.3 206V40h20.7V206z"/>
<polyline class="r" points="348.5,194.1 365.5,165 386.6,127.7 406.4,105.7 426.1,104 446,79.3 467.1,68.4 497.3,5.4"/>
<text class="t" text-anchor="end"><tspan x="38" y="209.5">0.0</tspan><tspan x="38" y="168.3">0.2</tspan><tspan x="38" y="127.1">0.4</tspan><tspan x="38" y="85.9">0.6</tspan><tspan x="38" y="44.7">0.8</tspan><tspan x="38" y="3.5">1.0</tspan></text>
<text class="t" text-anchor="middle"><tspan x="44" y="220">0.0</tspan><tspan x="85.4" y="220">0.2</tspan><tspan x="126.8" y="220">0.4</tspan><tspan x="168.2" y="220">0.6</tspan><tspan x="209.6" y="220">0.8</tspan><tspan x="251" y="220">1.0</tspan></text>
<text class="t" text-anchor="end"><tspan x="287" y="209.5">0.0</tspan><tspan x="287" y="168.3">0.2</tspan><tspan x="287" y="127.1">0.4</tspan><tspan x="287" y="85.9">0.6</tspan><tspan x="287" y="44.7">0.8</tspan><tspan x="287" y="3.5">1.0</tspan></text>
<text class="t" text-anchor="middle"><tspan x="293" y="220">0.0</tspan><tspan x="334.4" y="220">0.2</tspan><tspan x="375.8" y="220">0.4</tspan><tspan x="417.2" y="220">0.6</tspan><tspan x="458.6" y="220">0.8</tspan><tspan x="500" y="220">1.0</tspan></text>
<text class="l" x="147.5" y="235" text-anchor="middle">Bins</text><text class="l" x="396.5" y="235" text-anchor="middle">Confidence</text>
<text class="l" transform="translate(17 103) rotate(-90)" text-anchor="middle">% of Samples</text><text class="l" transform="translate(267 103) rotate(-90)" text-anchor="middle">Accuracy</text>
<text class="rl" x="51" y="53">Local Patch 3</text>
</g>

<g transform="translate(889 868)"><use href="#hf"/><use href="#rf"/>
<path d="M230.3 62.2h20.7M209.6 186.5h20.7M188.9 191.8h20.7M168.2 193.5h20.7M147.5 195.9h20.7" stroke="#b0b0b0" stroke-width="1.5"/>
<path class="b" d="M85.4 206V205h20.7V206zM106.1 206V203.7h20.7V206zM126.8 206V201.1h20.7V206zM147.5 206V196.7h20.7V206zM168.2 206V194.3h20.7V206zM188.9 206V192.6h20.7V206zM209.6 206V187.3h20.7V206zM230.3 206V63h20.7V206z"/>
<polyline class="r" points="332.3,206 345.8,177.6 365.5,133.3 385.3,116.6 406.4,96 424.9,76 447.2,51.7 468.3,34.4 497.3,1.6"/>
<text class="t" text-anchor="end"><tspan x="38" y="209.5">0.0</tspan><tspan x="38" y="168.3">0.2</tspan><tspan x="38" y="127.1">0.4</tspan><tspan x="38" y="85.9">0.6</tspan><tspan x="38" y="44.7">0.8</tspan><tspan x="38" y="3.5">1.0</tspan></text>
<text class="t" text-anchor="middle"><tspan x="44" y="220">0.0</tspan><tspan x="85.4" y="220">0.2</tspan><tspan x="126.8" y="220">0.4</tspan><tspan x="168.2" y="220">0.6</tspan><tspan x="209.6" y="220">0.8</tspan><tspan x="251" y="220">1.0</tspan></text>
<text class="t" text-anchor="end"><tspan x="287" y="209.5">0.0</tspan><tspan x="287" y="168.3">0.2</tspan><tspan x="287" y="127.1">0.4</tspan><tspan x="287" y="85.9">0.6</tspan><tspan x="287" y="44.7">0.8</tspan><tspan x="287" y="3.5">1.0</tspan></text>
<text class="t" text-anchor="middle"><tspan x="293" y="220">0.0</tspan><tspan x="334.4" y="220">0.2</tspan><tspan x="375.8" y="220">0.4</tspan><tspan x="417.2" y="220">0.6</tspan><tspan x="458.6" y="220">0.8</tspan><tspan x="500" y="220">1.0</tspan></text>
<text class="l" x="147.5" y="235" text-anchor="middle">Bins</text><text class="l" x="396.5" y="235" text-anchor="middle">Confidence</text>
<text class="l" transform="translate(17 103) rotate(-90)" text-anchor="middle">% of Samples</text><text class="l" transform="translate(267 103) rotate(-90)" text-anchor="middle">Accuracy</text>
</g>

<g transform="translate(1403 868)"><use href="#hf"/><use href="#rf"/>
<path d="M230.3 66.8h20.7M209.6 185.8h20.7M188.9 191.2h20.7M168.2 193.3h20.7" stroke="#b0b0b0" stroke-width="1.5"/>
<path class="b" d="M85.4 206V205h20.7V206zM106.1 206V202.9h20.7V206zM126.8 206V200.2h20.7V206zM147.5 206V195.7h20.7V206zM168.2 206V194.1h20.7V206zM188.9 206V192h20.7V206zM209.6 206V186.6h20.7V206zM230.3 206V67.6h20.7V206z"/>
<polyline class="r" points="329.8,206 345.8,177.6 364.2,130 385.3,113.3 405,95 426.1,70 447.2,47.6 468.3,30.1 497.3,1"/>
<text class="t" text-anchor="end"><tspan x="38" y="209.5">0.0</tspan><tspan x="38" y="168.3">0.2</tspan><tspan x="38" y="127.1">0.4</tspan><tspan x="38" y="85.9">0.6</tspan><tspan x="38" y="44.7">0.8</tspan><tspan x="38" y="3.5">1.0</tspan></text>
<text class="t" text-anchor="middle"><tspan x="44" y="220">0.0</tspan><tspan x="85.4" y="220">0.2</tspan><tspan x="126.8" y="220">0.4</tspan><tspan x="168.2" y="220">0.6</tspan><tspan x="209.6" y="220">0.8</tspan><tspan x="251" y="220">1.0</tspan></text>
<text class="t" text-anchor="end"><tspan x="287" y="209.5">0.0</tspan><tspan x="287" y="168.3">0.2</tspan><tspan x="287" y="127.1">0.4</tspan><tspan x="287" y="85.9">0.6</tspan><tspan x="287" y="44.7">0.8</tspan><tspan x="287" y="3.5">1.0</tspan></text>
<text class="t" text-anchor="middle"><tspan x="293" y="220">0.0</tspan><tspan x="334.4" y="220">0.2</tspan><tspan x="375.8" y="220">0.4</tspan><tspan x="417.2" y="220">0.6</tspan><tspan x="458.6" y="220">0.8</tspan><tspan x="500" y="220">1.0</tspan></text>
<text class="l" x="147.5" y="235" text-anchor="middle">Bins</text><text class="l" x="396.5" y="235" text-anchor="middle">Confidence</text>
<text class="l" transform="translate(17 103) rotate(-90)" text-anchor="middle">% of Samples</text><text class="l" transform="translate(267 103) rotate(-90)" text-anchor="middle">Accuracy</text>
</g>

<g transform="translate(1917 868)"><use href="#hf"/><use href="#rf"/>
<path d="M230.3 74.2h20.7M209.6 192.6h20.7M188.9 194.3h20.7M168.2 194.3h20.7" stroke="#b0b0b0" stroke-width="1.5"/>
<path class="b" d="M64.7 206V205.4h20.7V206zM85.4 206V202.7h20.7V206zM106.1 206V202.7h20.7V206zM126.8 206V201.1h20.7V206zM147.5 206V196.7h20.7V206zM168.2 206V195.1h20.7V206zM188.9 206V195.1h20.7V206zM209.6 206V193.4h20.7V206zM230.3 206V75h20.7V206z"/>
<polyline class="r" points="331.3,173.2 347,144.4 365.5,126.7 385.3,107.7 406.4,84.3 427.6,74.4 447.2,47.4 468.3,29.3 497.3,2.7"/>
<text class="t" text-anchor="end"><tspan x="38" y="209.5">0.0</tspan><tspan x="38" y="168.3">0.2</tspan><tspan x="38" y="127.1">0.4</tspan><tspan x="38" y="85.9">0.6</tspan><tspan x="38" y="44.7">0.8</tspan><tspan x="38" y="3.5">1.0</tspan></text>
<text class="t" text-anchor="middle"><tspan x="44" y="220">0.0</tspan><tspan x="85.4" y="220">0.2</tspan><tspan x="126.8" y="220">0.4</tspan><tspan x="168.2" y="220">0.6</tspan><tspan x="209.6" y="220">0.8</tspan><tspan x="251" y="220">1.0</tspan></text>
<text class="t" text-anchor="end"><tspan x="287" y="209.5">0.0</tspan><tspan x="287" y="168.3">0.2</tspan><tspan x="287" y="127.1">0.4</tspan><tspan x="287" y="85.9">0.6</tspan><tspan x="287" y="44.7">0.8</tspan><tspan x="287" y="3.5">1.0</tspan></text>
<text class="t" text-anchor="middle"><tspan x="293" y="220">0.0</tspan><tspan x="334.4" y="220">0.2</tspan><tspan x="375.8" y="220">0.4</tspan><tspan x="417.2" y="220">0.6</tspan><tspan x="458.6" y="220">0.8</tspan><tspan x="500" y="220">1.0</tspan></text>
<text class="l" x="147.5" y="235" text-anchor="middle">Bins</text><text class="l" x="396.5" y="235" text-anchor="middle">Confidence</text>
<text class="l" transform="translate(17 103) rotate(-90)" text-anchor="middle">% of Samples</text><text class="l" transform="translate(267 103) rotate(-90)" text-anchor="middle">Accuracy</text>
</g>
</svg>
</body></html>
